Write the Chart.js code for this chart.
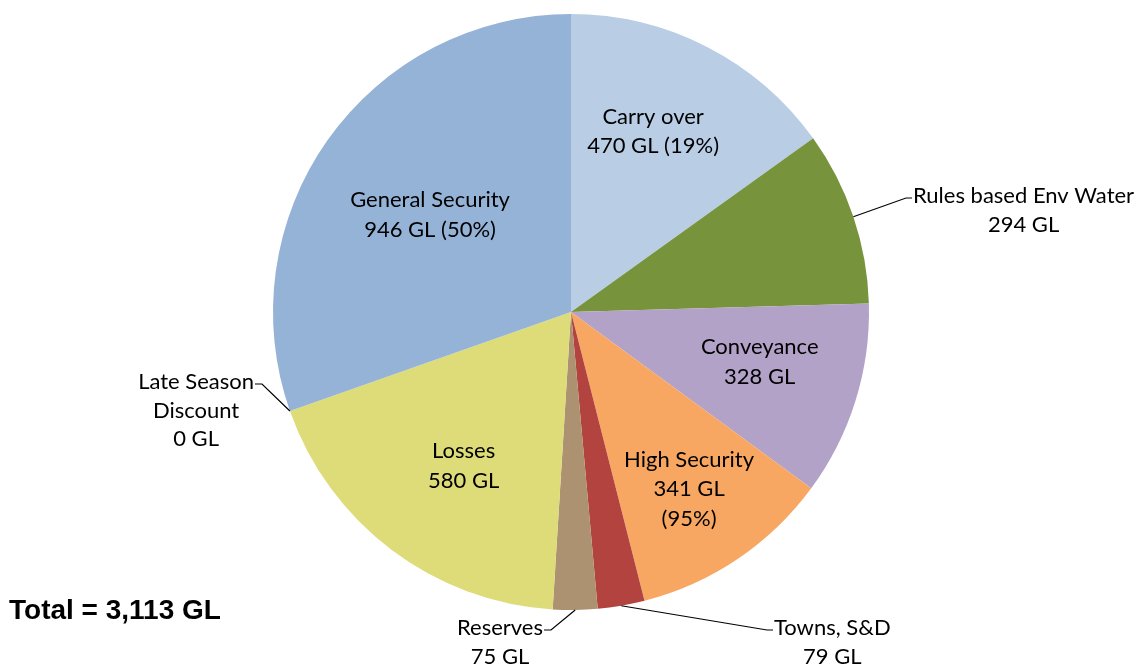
<!DOCTYPE html>
<html>
<head>
<meta charset="utf-8">
<script src="https://cdn.jsdelivr.net/npm/chart.js@4.4.1/dist/chart.umd.min.js"></script>
<style>
  html, body { margin: 0; padding: 0; background: #fff; }
  #wrap { width: 1145px; height: 666px; position: relative; }
</style>
</head>
<body>
<div id="wrap"><canvas id="pie"></canvas></div>
<script>
// data (GL), clockwise from 12 o'clock
const categories = ['Carry over', 'Rules based Env Water', 'Conveyance', 'High Security',
  'Towns, S&D', 'Reserves', 'Losses', 'Late Season Discount', 'General Security'];
const volumes = [470, 294, 328, 341, 79, 75, 580, 0, 946];
const labelLines = [
  ['Carry over', '470 GL (19%)'],
  ['Rules based Env Water', '294 GL'],
  ['Conveyance', '328 GL'],
  ['High Security', '341 GL', '(95%)'],
  ['Towns, S&D', '79 GL'],
  ['Reserves', '75 GL'],
  ['Losses', '580 GL'],
  ['Late Season', 'Discount', '0 GL'],
  ['General Security', '946 GL (50%)']
];
const totalLabel = 'Total = 3,113 GL';

const colors = ['#B9CDE5', '#77933C', '#B3A2C7', '#F8A762', '#B3433F',
  '#AC9270', '#DDDC78', '#8EAADB', '#95B3D7'];

// label placement: inside labels -> radius fraction + angle tweak (deg)
// outside labels -> elbow offset from centre, text side
const place = [
  { r: 0.665, da: -2.7 },
  { out: true, ex: 335, ey: -114, side: 'right' },
  { r: 0.655, da: -2.5 },
  { r: 0.714, da: 0.3 },
  { out: true, ex: 196, ey: 318, side: 'right' },
  { out: true, ex: -20, ey: 318, side: 'left' },
  { r: 0.63, da: -2.2 },
  { out: true, ex: -309, ey: 72, side: 'left' },
  { r: 0.574, da: -0.8 }
];

const FONT = 'Lato, "Open Sans", sans-serif';

const labelPlugin = {
  id: 'sliceLabels',
  afterDraw(chart) {
    const ctx = chart.ctx;
    const arcs = chart.getDatasetMeta(0).data;
    ctx.save();
    ctx.font = '22px ' + FONT;
    ctx.fillStyle = '#000';
    ctx.textBaseline = 'middle';
    const lh = 29.5;
    arcs.forEach((arc, i) => {
      const p = place[i];
      const lines = labelLines[i];
      const cx = arc.x, cy = arc.y, R = arc.outerRadius;
      const mid = (arc.startAngle + arc.endAngle) / 2;
      if (!p.out) {
        const a = mid + p.da * Math.PI / 180;
        const tx = cx + Math.cos(a) * R * p.r;
        const ty = cy + Math.sin(a) * R * p.r;
        ctx.textAlign = 'center';
        lines.forEach((t, k) => {
          ctx.fillText(t, tx, ty + (k - (lines.length - 1) / 2) * lh);
        });
        return;
      }
      // leader line from slice edge to label
      const sx = cx + Math.cos(mid) * R;
      const sy = cy + Math.sin(mid) * R;
      const ex = cx + p.ex, ey = cy + p.ey;
      const hx = p.side === 'right' ? ex + 6 : ex - 7;
      ctx.strokeStyle = '#000';
      ctx.lineWidth = 1.2;
      ctx.beginPath();
      ctx.moveTo(sx, sy);
      ctx.lineTo(ex, ey);
      ctx.lineTo(hx, ey);
      ctx.stroke();
      // first line sits beside the elbow, next lines centred under it
      const w0 = ctx.measureText(lines[0]).width;
      const left = p.side === 'right' ? hx + 1 : hx - 1 - w0;
      const ccx = left + w0 / 2;
      ctx.textAlign = 'center';
      lines.forEach((t, k) => {
        ctx.fillText(t, ccx, ey - 2 + k * (lh - 1));
      });
    });
    // total
    ctx.font = 'bold 28px "Liberation Sans", Arial, sans-serif';
    ctx.textAlign = 'left';
    ctx.textBaseline = 'alphabetic';
    ctx.fillText(totalLabel, 9, 619);
    ctx.restore();
  }
};

new Chart(document.getElementById('pie'), {
  type: 'pie',
  data: {
    labels: categories,
    datasets: [{
      data: volumes,
      backgroundColor: colors,
      borderWidth: 0
    }]
  },
  options: {
    responsive: true,
    maintainAspectRatio: false,
    animation: false,
    layout: { padding: { top: 14, bottom: 56, left: 273, right: 276 } },
    plugins: {
      legend: { display: false },
      tooltip: { enabled: false }
    }
  },
  plugins: [labelPlugin]
});
</script>
</body>
</html>
